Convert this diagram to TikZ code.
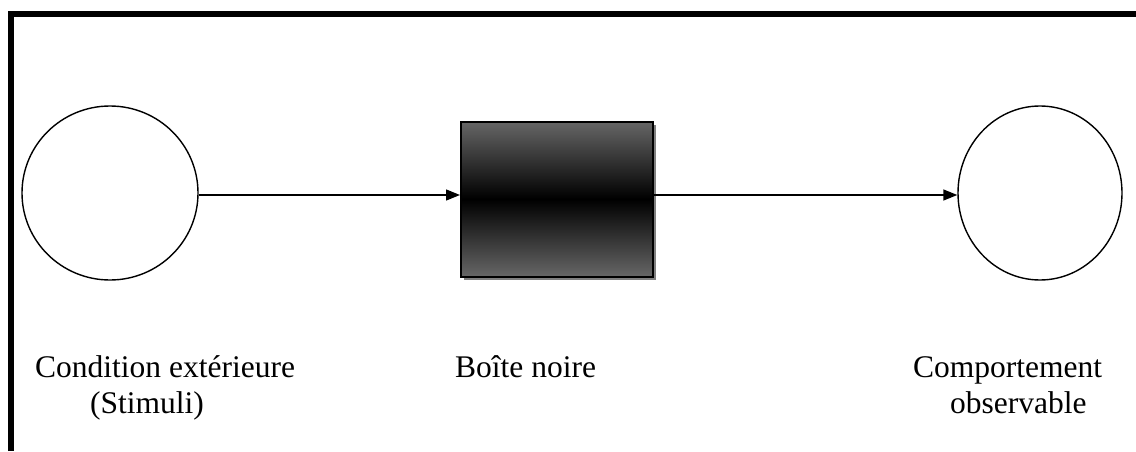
\documentclass[tikz,border=0pt]{standalone}
\usepackage{fontspec}
\setmainfont{Liberation Serif}
\usetikzlibrary{shapes.geometric,arrows.meta,shadows}
\begin{document}
\begin{tikzpicture}[x=1pt,y=1pt,
  stage/.style={ellipse, draw, line width=1.4pt, inner sep=0pt},
  blackbox/.style={rectangle, draw, line width=2pt, inner sep=0pt,
    minimum width=192pt, minimum height=155pt,
    top color=black!60, bottom color=black!60, middle color=black,
    drop shadow={shadow xshift=3pt, shadow yshift=-3pt, fill=black!50, opacity=1}},
  flow/.style={line width=1.4pt, -{Triangle[length=14pt,width=11pt]}},
  caption/.style={anchor=base west, inner sep=0pt, font=\fontsize{31.5}{36}\selectfont}]
\useasboundingbox (0,0) rectangle (1136,451);
% open frame: left and top sides only
\draw[line width=6pt] (11,0) -- (11,437) -- (1136,437);
% the three stages
\node[stage, minimum width=176pt, minimum height=174pt] (cond) at (110,258) {};
\node[blackbox] (box) at (557,252) {};
\node[stage, minimum width=164pt, minimum height=174pt] (comp) at (1040,258) {};
% connectors
\draw[flow] (cond.east |- 0,256) -- (box.west |- 0,256);
\draw[flow] (box.east |- 0,256) -- (comp.west |- 0,256);
% captions
\node[caption] (t1) at (35,74) {Condition extérieure};
\node[caption] (t2) at (90,38) {(Stimuli)};
\node[caption] (t3) at (455,74) {Boîte noire};
\node[caption] (t4) at (913,74) {Comportement};
\node[caption] (t5) at (950,38) {observable};
\end{tikzpicture}
\end{document}
